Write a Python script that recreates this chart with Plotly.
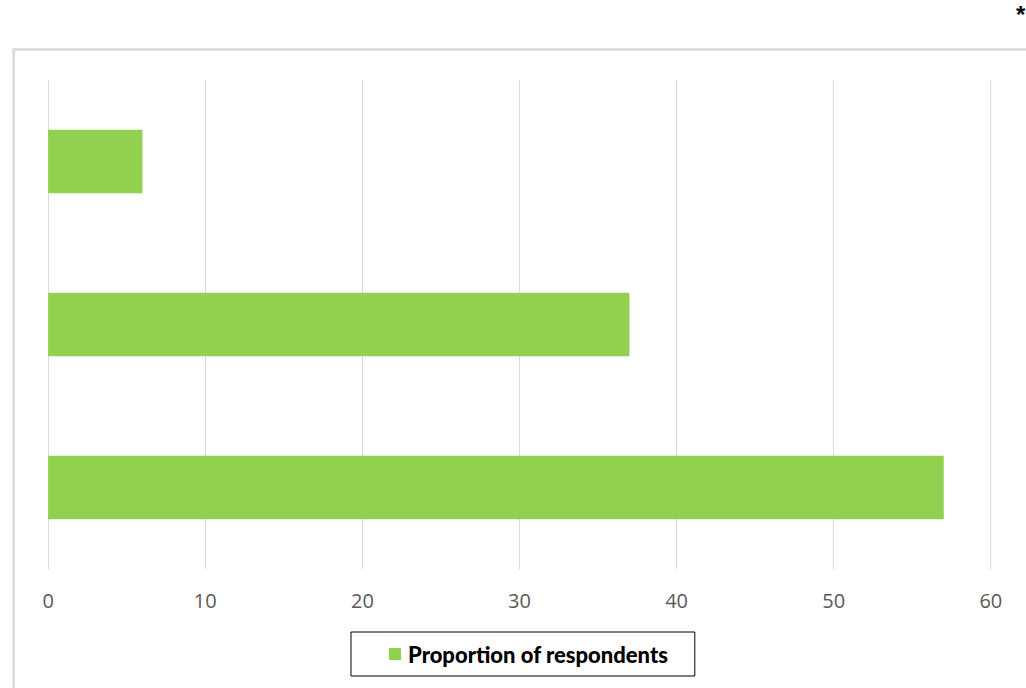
import plotly.graph_objects as go

categories = ["Category 3", "Category 2", "Category 1"]
values = [57, 37, 6]
series_name = "Proportion of respondents"
tick_vals = [0, 10, 20, 30, 40, 50, 60]

W, H = 1026, 688
UNIT = 15.72           # pixels per unit on x
X0PX = 48              # pixel of value 0
PADV = 0.2             # range padding in data units
L = X0PX - PADV * UNIT
R = X0PX + (60 + PADV) * UNIT
T, B = 80, 569
pw, ph = R - L, B - T

def px(x):
    return (x - L) / pw

def py(y):
    return (B - y) / ph

fig = go.Figure()
fig.add_trace(go.Bar(
    y=categories, x=values, orientation="h", name=series_name,
    marker=dict(color="#92D050", line=dict(width=0)),
    width=0.39, showlegend=False,
))

shapes = [
    dict(type="rect", xref="paper", yref="paper",
         x0=px(13.5), x1=px(1032), y0=py(695), y1=py(49.5),
         line=dict(color="#d9d9d9", width=2.5), fillcolor="rgba(0,0,0,0)", layer="below"),
    dict(type="rect", xref="paper", yref="paper",
         x0=px(351), x1=px(695), y0=py(676), y1=py(632),
         line=dict(color="#000000", width=1), fillcolor="white"),
    dict(type="rect", xref="paper", yref="paper",
         x0=px(389), x1=px(401), y0=py(660), y1=py(648),
         line=dict(width=0), fillcolor="#92D050"),
]

annotations = [
    dict(text=series_name, xref="paper", yref="paper",
         x=px(406), y=py(654), xanchor="left", yanchor="middle", showarrow=False,
         font=dict(family="Lato", size=22, color="#000000", weight=900)),
    dict(text="*", xref="paper", yref="paper",
         x=px(1021), y=py(15), xanchor="center", yanchor="middle", showarrow=False,
         font=dict(family="Arial", size=24, color="#000000", weight="bold")),
]

fig.update_layout(
    width=W, height=H,
    margin=dict(l=L, r=W - R, t=T, b=H - B, pad=0),
    paper_bgcolor="white", plot_bgcolor="white",
    bargap=0.61,
    shapes=shapes, annotations=annotations,
    xaxis=dict(range=[-PADV, 60 + PADV], tickvals=tick_vals, showgrid=True, gridcolor="#d9d9d9",
               gridwidth=1, zeroline=True, zerolinecolor="#d9d9d9", zerolinewidth=1,
               showline=False,
               tickfont=dict(family="Open Sans", size=20, color="#595959"),
               ticks="", ticklabelstandoff=18, fixedrange=True),
    yaxis=dict(showticklabels=False, showgrid=False, zeroline=False, showline=False,
               ticks="", fixedrange=True),
)

fig.write_html("out.html")
